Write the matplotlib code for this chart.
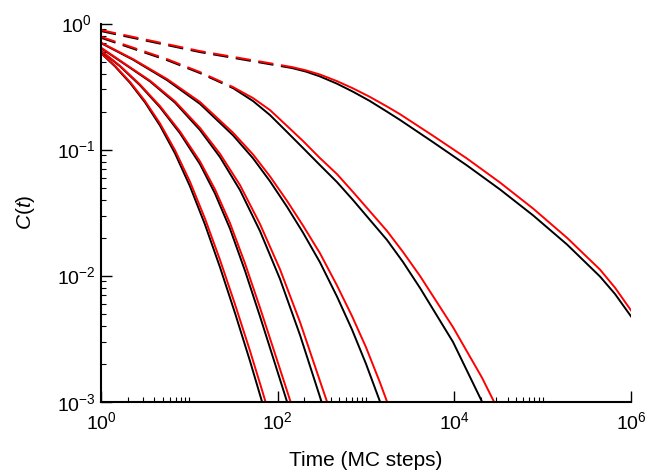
import numpy as np
import matplotlib
matplotlib.use("Agg")
import matplotlib.pyplot as plt
from matplotlib.ticker import LogLocator, NullFormatter

plt.rcParams['font.family'] = ['Liberation Sans', 'DejaVu Sans']
plt.rcParams['mathtext.fontset'] = 'custom'
plt.rcParams['mathtext.rm'] = 'Liberation Sans'
plt.rcParams['mathtext.it'] = 'Liberation Sans:italic'
plt.rcParams['lines.scale_dashes'] = False

# labelled ticks
x_ticks = [1, 1e2, 1e4, 1e6]
y_ticks = [1e-3, 1e-2, 1e-1, 1]

# run 1
t1_black = [1, 1.440, 2.130, 3.149, 4.656, 6.884, 10.18, 15.05, 22.25, 32.89, 48.63, 66.5]
c1_black = [0.5834, 0.4577, 0.3386, 0.2371, 0.1551, 0.0934, 0.0511, 0.02542, 0.01165,
            0.00505, 0.002101, 0.001]
t1_red = [1, 1.440, 2.130, 3.149, 4.656, 6.884, 10.18, 15.05, 22.25, 32.89, 48.63, 66.5, 72.8]
c1_red = [0.5888, 0.4627, 0.3448, 0.2433, 0.1614, 0.0990, 0.0556, 0.02831, 0.01333,
          0.00592, 0.002531, 0.001236, 0.001]

# run 2
t2_black = [1, 1.641, 2.764, 4.656, 7.842, 13.21, 19.53, 28.87, 42.68, 63.11, 93.3, 127.6]
c2_black = [0.6051, 0.4585, 0.3240, 0.2168, 0.1348, 0.0766, 0.04486, 0.02357, 0.01094,
            0.004745, 0.002002, 0.001]
t2_red = [1, 1.641, 2.764, 4.656, 7.842, 13.21, 19.53, 28.87, 42.68, 63.11, 93.3, 127.6, 139.8]
c2_red = [0.6106, 0.4627, 0.3287, 0.2216, 0.1393, 0.0806, 0.04836, 0.02611, 0.01251,
          0.005564, 0.002399, 0.00122, 0.001]

# run 3
t3_black = [1, 1.870, 3.587, 6.884, 13.21, 22.25, 37.46, 63.11, 106.3, 179.0, 313.5]
c3_black = [0.6393, 0.4748, 0.3479, 0.2361, 0.1429, 0.0872, 0.04773, 0.02258, 0.009397,
            0.00338, 0.001]
t3_red = [1, 1.870, 3.587, 6.884, 13.21, 22.25, 37.46, 63.11, 106.3, 179.0, 313.5, 361.9]
c3_red = [0.6451, 0.4789, 0.3527, 0.2417, 0.1487, 0.0926, 0.0523, 0.02566, 0.01122,
          0.004284, 0.001342, 0.001]

# run 4
t4_black = [1, 2.303, 5.588, 13.21, 31.22, 52.58, 81.9, 127.6, 193.6, 301.5, 469.7, 694.4, 1000, 1441]
c4_black = [0.7004, 0.5173, 0.3562, 0.2307, 0.1300, 0.0854, 0.0561, 0.0352, 0.02195,
            0.01274, 0.00682, 0.003733, 0.001995, 0.001]
t4_red = [1, 2.303, 5.588, 13.21, 31.22, 52.58, 81.9, 127.6, 193.6, 301.5, 469.7, 694.4, 1000, 1441, 1730]
c4_red = [0.7068, 0.5229, 0.3635, 0.2388, 0.1363, 0.0916, 0.0613, 0.0392, 0.02497,
          0.01504, 0.00835, 0.004776, 0.002701, 0.001415, 0.001]

# run 5 (short-time part dashed)
t5_black = [1, 5.59, 13.2, 31.2, 52.6, 81.9, 128, 194, 301, 469, 713, 1110, 1730, 2624,
            4090, 9660, 20560]
c5_black = [0.772, 0.513, 0.405, 0.308, 0.243, 0.188, 0.1378, 0.1029, 0.0754, 0.0553,
            0.0398, 0.02763, 0.01918, 0.01283, 0.00798, 0.002976, 0.001]
t5_red = [1, 5.59, 13.2, 31.2, 52.6, 81.9, 128, 194, 301, 469, 713, 1110, 1730, 2624,
          4090, 9660, 20560, 28100]
c5_red = [0.786, 0.5228, 0.4124, 0.3135, 0.2565, 0.206, 0.1538, 0.1169, 0.0857, 0.0640,
          0.0461, 0.0323, 0.0226, 0.0154, 0.00993, 0.0039, 0.00155, 0.001]

# run 6 (short-time part dashed)
t6 = [1, 13.2, 145.2, 208.9, 301, 467.7, 713, 1096, 1730, 2427, 5741, 13930, 32890,
      77800, 188800, 445700, 659200, 1e6]
c6_black = [0.872, 0.594, 0.444, 0.416, 0.381, 0.334, 0.288, 0.244, 0.200, 0.172, 0.1146,
            0.0748, 0.0483, 0.0301, 0.01766, 0.00984, 0.00715, 0.00475]
c6_red = [0.888, 0.605, 0.452, 0.4256, 0.3945, 0.3499, 0.3062, 0.2630, 0.2198, 0.1910,
          0.1288, 0.0849, 0.0548, 0.0341, 0.01995, 0.01117, 0.00802, 0.0053]

# index where the dashed part ends for runs 5 and 6
split5 = 3
split6 = 2

fig = plt.figure(figsize=(6.49, 4.72), dpi=100)
ax = fig.add_axes([0.1556, 0.149, 0.8167, 0.801])

lw = 1.4
dash = (11, 5.5)

for tb, cb, tr, cr in [(t1_black, c1_black, t1_red, c1_red),
                       (t2_black, c2_black, t2_red, c2_red),
                       (t3_black, c3_black, t3_red, c3_red),
                       (t4_black, c4_black, t4_red, c4_red)]:
    ax.plot(tb, cb, color='black', lw=lw)
    ax.plot(tr, cr, color='red', lw=lw)

# runs with a dashed early-time segment
for tb, cb, tr, cr, s in [(t5_black, c5_black, t5_red, c5_red, split5),
                          (t6, c6_black, t6, c6_red, split6)]:
    ax.plot(tb[:s + 1], cb[:s + 1], color='black', lw=lw, dashes=dash)
    ax.plot(tb[s:], cb[s:], color='black', lw=lw)
    ax.plot(tr[:s + 1], cr[:s + 1], color='red', lw=lw, dashes=dash)
    ax.plot(tr[s:], cr[s:], color='red', lw=lw)

ax.set_xscale('log')
ax.set_yscale('log')
ax.set_xlim(1, 1e6)
ax.set_ylim(1e-3, 1)

ax.set_xticks(x_ticks)
ax.set_yticks(y_ticks)
ax.xaxis.set_minor_locator(LogLocator(base=100, subs=np.arange(2, 11)))
ax.xaxis.set_minor_formatter(NullFormatter())
ax.yaxis.set_minor_locator(LogLocator(base=10, subs=np.arange(2, 10)))
ax.yaxis.set_minor_formatter(NullFormatter())

for side in ['top', 'right']:
    ax.spines[side].set_visible(False)
for side in ['left', 'bottom']:
    ax.spines[side].set_linewidth(1.5)

ax.tick_params(which='major', direction='in', length=8, width=1.0, labelsize=14)
ax.tick_params(which='minor', direction='in', length=3.8, width=0.8)
ax.tick_params(axis='x', which='major', pad=7)
ax.tick_params(axis='y', which='major', pad=18)
plt.setp(ax.get_yticklabels(), ha='center')

ax.set_xlabel('Time (MC steps)', fontsize=15, labelpad=13)
ax.set_ylabel(r'$C(t)$', fontsize=15, labelpad=14)

fig.savefig('out.png', dpi=100)
